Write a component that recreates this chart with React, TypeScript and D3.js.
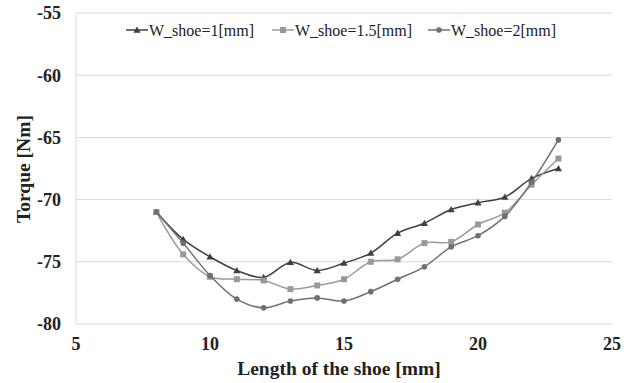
import React from "react";
import * as d3 from "d3";

// Shoe length [mm]
const shoeLength = [8, 9, 10, 11, 12, 13, 14, 15, 16, 17, 18, 19, 20, 21, 22, 23];
// Torque [Nm] per shoe width
const torqueW1 = [-71.0, -73.2, -74.6, -75.7, -76.25, -75.05, -75.7, -75.1, -74.3, -72.7, -71.9, -70.8, -70.25, -69.8, -68.3, -67.5];
const torqueW15 = [-71.0, -74.4, -76.2, -76.4, -76.5, -77.2, -76.9, -76.4, -75.0, -74.8, -73.5, -73.4, -72.0, -71.05, -68.8, -66.7];
const torqueW2 = [-71.0, -73.5, -76.1, -78.0, -78.7, -78.15, -77.9, -78.15, -77.4, -76.4, -75.4, -73.8, -72.9, -71.35, -68.6, -65.2];

const seriesNames = ["W_shoe=1[mm]", "W_shoe=1.5[mm]", "W_shoe=2[mm]"];
const xTicks = [5, 10, 15, 20, 25];
const yTicks = [-55, -60, -65, -70, -75, -80];

const W = 632;
const H = 383;
const plot = { left: 76, right: 612, top: 13, bottom: 324 };

const FONT = "'Liberation Serif', 'Times New Roman', serif";

type Shape = "triangle" | "square" | "circle";

function Marker({ shape, x, y, color }: { shape: Shape; x: number; y: number; color: string }) {
  if (shape === "triangle") {
    const s = 3.6;
    return <path d={`M${x},${y - s}L${x + s},${y + s * 0.75}L${x - s},${y + s * 0.75}Z`} fill={color} />;
  }
  if (shape === "square") {
    return <rect x={x - 3} y={y - 3} width={6} height={6} fill={color} />;
  }
  return <circle cx={x} cy={y} r={2.8} fill={color} />;
}

export default function App() {
  const x = d3.scaleLinear().domain([5, 25]).range([plot.left, plot.right]);
  const y = d3.scaleLinear().domain([-80, -55]).range([plot.bottom, plot.top]);

  const series = [
    { name: seriesNames[0], values: torqueW1, color: "#404040", shape: "triangle" as Shape },
    { name: seriesNames[1], values: torqueW15, color: "#999999", shape: "square" as Shape },
    { name: seriesNames[2], values: torqueW2, color: "#707070", shape: "circle" as Shape },
  ];

  const line = d3
    .line<number>()
    .x((_, i) => x(shoeLength[i]))
    .y((v) => y(v))
    .curve(d3.curveCatmullRom.alpha(0.5));

  const legendX = [126, 272, 428];

  return (
    <svg width={W} height={H} style={{ position: "absolute", left: 0, top: 0, background: "#fff" }}>
      <rect width={W} height={H} fill="#fff" />
      {/* horizontal gridlines */}
      {yTicks.map((t) => (
        <line key={t} x1={plot.left} x2={plot.right} y1={y(t)} y2={y(t)} stroke="#d9d9d9" strokeWidth={1} />
      ))}
      {/* vertical axis line */}
      <line x1={plot.left} x2={plot.left} y1={plot.top} y2={plot.bottom} stroke="#d9d9d9" strokeWidth={1} />

      {/* y tick labels */}
      {yTicks.map((t) => (
        <text
          key={t}
          x={61}
          y={y(t)}
          dy="0.35em"
          textAnchor="end"
          fontFamily={FONT}
          fontWeight="bold"
          fontSize={18}
          fill="#222"
        >
          {t}
        </text>
      ))}
      {/* x tick labels */}
      {xTicks.map((t) => (
        <text
          key={t}
          x={x(t)}
          y={350}
          textAnchor="middle"
          fontFamily={FONT}
          fontWeight="bold"
          fontSize={18}
          fill="#222"
        >
          {t}
        </text>
      ))}

      {/* axis titles */}
      <text x={339} y={375} textAnchor="middle" fontFamily={FONT} fontWeight="bold" fontSize={19.5} fill="#222">
        Length of the shoe [mm]
      </text>
      <text
        transform={`translate(30,169) rotate(-90)`}
        textAnchor="middle"
        fontFamily={FONT}
        fontWeight="bold"
        fontSize={19.5}
        fill="#222"
      >
        Torque [Nm]
      </text>

      {/* series */}
      {series.map((s) => (
        <g key={s.name}>
          <path d={line(s.values) ?? ""} fill="none" stroke={s.color} strokeWidth={1.5} />
          {s.values.map((v, i) => (
            <Marker key={i} shape={s.shape} x={x(shoeLength[i])} y={y(v)} color={s.color} />
          ))}
        </g>
      ))}

      {/* legend */}
      {series.map((s, i) => (
        <g key={s.name} transform={`translate(${legendX[i]},30)`}>
          <line x1={0} x2={22} y1={0} y2={0} stroke={s.color} strokeWidth={1.5} />
          <Marker shape={s.shape} x={11} y={0} color={s.color} />
          <text x={23} y={0} dy="0.35em" fontFamily={FONT} fontSize={16} fill="#222">
            {s.name}
          </text>
        </g>
      ))}
    </svg>
  );
}
